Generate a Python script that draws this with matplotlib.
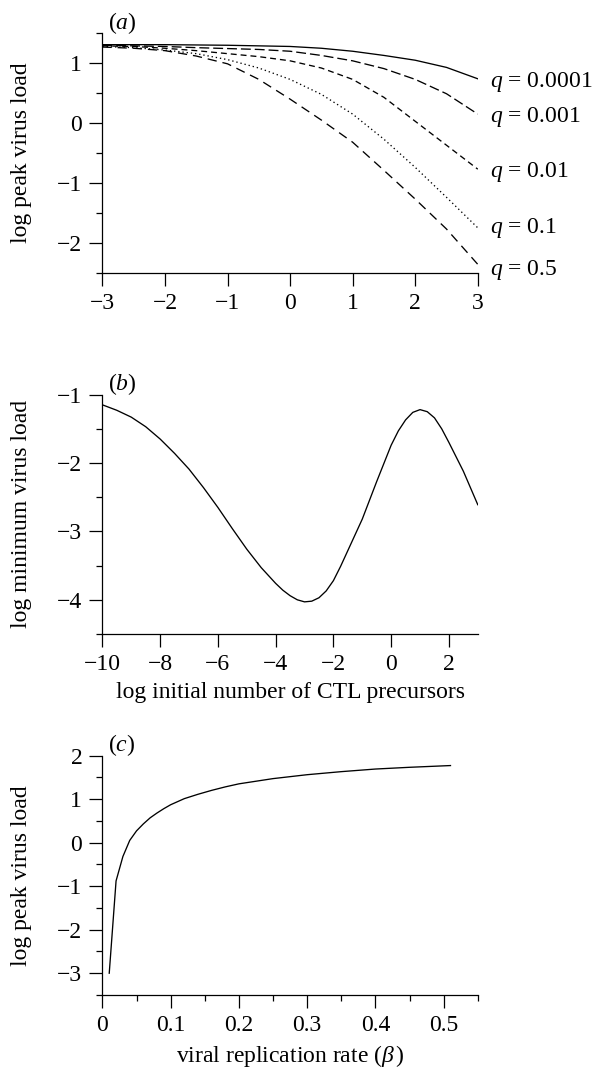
import matplotlib
matplotlib.use("Agg")
import matplotlib.pyplot as plt
from matplotlib.ticker import MultipleLocator

plt.rcParams["font.family"] = ["Liberation Serif", "DejaVu Serif"]
plt.rcParams["mathtext.fontset"] = "custom"
plt.rcParams["mathtext.rm"] = "Liberation Serif"
plt.rcParams["mathtext.it"] = "Liberation Serif:italic"
FS = 17
plt.rcParams["font.size"] = FS

# (a) peak virus load vs log initial CTL precursors, for several q
x_a = [-3, -2.5, -2, -1.5, -1, -0.5, 0, 0.5, 1, 1.5, 2, 2.5, 3]
q_labels = ["0.0001", "0.001", "0.01", "0.1", "0.5"]
peak_q0001 = [1.31, 1.31, 1.31, 1.305, 1.30, 1.29, 1.28, 1.25, 1.20, 1.13, 1.05, 0.93, 0.74]
peak_q001 = [1.30, 1.29, 1.28, 1.26, 1.245, 1.23, 1.20, 1.13, 1.04, 0.91, 0.73, 0.49, 0.15]
peak_q01 = [1.29, 1.28, 1.25, 1.21, 1.16, 1.11, 1.04, 0.92, 0.73, 0.43, 0.03, -0.37, -0.77]
peak_q1 = [1.28, 1.26, 1.22, 1.16, 1.06, 0.92, 0.73, 0.48, 0.15, -0.27, -0.74, -1.24, -1.75]
peak_q5 = [1.27, 1.25, 1.21, 1.12, 0.99, 0.73, 0.40, 0.05, -0.32, -0.79, -1.27, -1.77, -2.36]
label_y = [0.68, 0.10, -0.82, -1.75, -2.45]

# (b) minimum virus load vs log initial CTL precursors
x_b = [-10, -9.5, -9, -8.5, -8, -7.5, -7, -6.5, -6, -5.5, -5, -4.5, -4, -3.75, -3.5,
       -3.25, -3, -2.75, -2.5, -2.25, -2, -1.75, -1.5, -1.25, -1, -0.5, 0, 0.25,
       0.5, 0.75, 1, 1.25, 1.5, 1.75, 2, 2.5, 3]
min_load = [-1.15, -1.23, -1.33, -1.47, -1.65, -1.86, -2.09, -2.36, -2.65, -2.96,
            -3.26, -3.53, -3.76, -3.86, -3.94, -4.00, -4.03, -4.02, -3.97, -3.87,
            -3.72, -3.51, -3.28, -3.05, -2.82, -2.27, -1.74, -1.53, -1.37, -1.26,
            -1.22, -1.25, -1.34, -1.50, -1.70, -2.12, -2.61]

# (c) peak virus load vs viral replication rate
beta = [0.01, 0.02, 0.03, 0.04, 0.05, 0.06, 0.07, 0.08, 0.09, 0.10, 0.12, 0.14,
        0.16, 0.18, 0.20, 0.25, 0.30, 0.35, 0.40, 0.45, 0.51]
peak_beta = [-3.0, -0.88, -0.32, 0.05, 0.27, 0.43, 0.57, 0.68, 0.78, 0.87, 1.01, 1.11,
             1.20, 1.28, 1.35, 1.47, 1.56, 1.63, 1.69, 1.73, 1.77]

fig = plt.figure(figsize=(5.93, 10.67), dpi=100)
left, width, height = 0.1727, 0.633, 0.2244
ax_a = fig.add_axes([left, 0.7444, width, height])
ax_b = fig.add_axes([left, 0.4058, width, height])
ax_c = fig.add_axes([left, 0.0675, width, height])


def style(ax):
    for s in ["top", "right"]:
        ax.spines[s].set_visible(False)
    for s in ["left", "bottom"]:
        ax.spines[s].set_linewidth(0.9)
    ax.tick_params(which="major", direction="out", length=9.5, width=0.9, pad=5, labelsize=FS)
    ax.tick_params(which="minor", direction="out", length=4.2, width=0.9)


lw = 0.95
ax_a.plot(x_a, peak_q0001, color="black", lw=lw)
ax_a.plot(x_a, peak_q001, color="black", lw=lw, dashes=(7.5, 3))
ax_a.plot(x_a, peak_q01, color="black", lw=lw, dashes=(4.5, 3))
ax_a.plot(x_a, peak_q1, color="black", lw=lw, dashes=(1, 2.2))
ax_a.plot(x_a, peak_q5, color="black", lw=lw, dashes=(7, 4.5))
for lab, yy in zip(q_labels, label_y):
    ax_a.text(3.2, yy, "$q$ = " + lab, ha="left", va="center", fontsize=FS, clip_on=False)
ax_a.set_xlim(-3, 3)
ax_a.set_ylim(-2.5, 1.5)
ax_a.xaxis.set_major_locator(MultipleLocator(1))
ax_a.yaxis.set_major_locator(MultipleLocator(1))
ax_a.yaxis.set_minor_locator(MultipleLocator(0.5))
ax_a.set_ylabel("log peak virus load", fontsize=FS)
style(ax_a)
ax_a.text(0.016, 0.99, "($a$)", transform=ax_a.transAxes, ha="left", va="bottom", fontsize=FS)

ax_b.plot(x_b, min_load, color="black", lw=lw)
ax_b.set_xlim(-10, 3)
ax_b.set_ylim(-4.5, -1)
ax_b.xaxis.set_major_locator(MultipleLocator(2))
ax_b.yaxis.set_major_locator(MultipleLocator(1))
ax_b.yaxis.set_minor_locator(MultipleLocator(0.5))
ax_b.set_ylabel("log minimum virus load", fontsize=FS)
ax_b.set_xlabel("log initial number of CTL precursors", fontsize=FS)
style(ax_b)
ax_b.text(0.016, 0.99, "($b$)", transform=ax_b.transAxes, ha="left", va="bottom", fontsize=FS)

ax_c.plot(beta, peak_beta, color="black", lw=lw)
ax_c.set_xlim(0, 0.55)
ax_c.set_ylim(-3.5, 2)
ax_c.xaxis.set_minor_locator(MultipleLocator(0.05))
ax_c.yaxis.set_major_locator(MultipleLocator(1))
ax_c.yaxis.set_minor_locator(MultipleLocator(0.5))
ax_c.set_xticks([0, 0.1, 0.2, 0.3, 0.4, 0.5])
ax_c.set_xticklabels(["0", "0.1", "0.2", "0.3", "0.4", "0.5"])
ax_c.set_ylabel("log peak virus load", fontsize=FS)
ax_c.set_xlabel(r"viral replication rate ($\beta\,$)", fontsize=FS)
style(ax_c)
ax_c.text(0.016, 0.99, "($c$)", transform=ax_c.transAxes, ha="left", va="bottom", fontsize=FS)

for ax in (ax_a, ax_b, ax_c):
    ax.yaxis.set_label_coords(-0.187, 0.5)
ax_b.xaxis.set_label_coords(0.5, -0.268)
ax_c.xaxis.set_label_coords(0.5, -0.278)
ax_b.xaxis.label.set_verticalalignment("baseline")
ax_c.xaxis.label.set_verticalalignment("baseline")

fig.savefig("out.png", dpi=100)
